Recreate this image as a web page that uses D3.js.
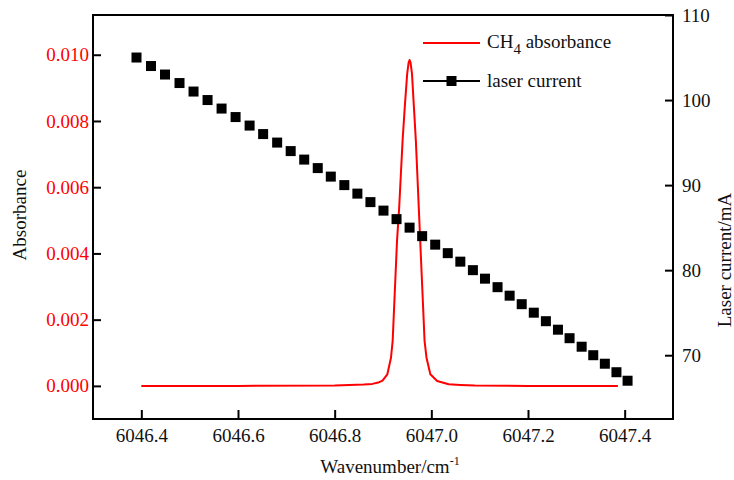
<!DOCTYPE html>
<html>
<head>
<meta charset="utf-8">
<script src="https://cdn.jsdelivr.net/npm/d3@7"></script>
<style>
  body { margin: 0; background: #fff; }
  svg text { font-family: "Liberation Serif", "Times New Roman", serif; }
</style>
</head>
<body>
<svg id="chart" width="734" height="480"></svg>
<script>
// CH4 absorbance line
const absWn = [6046.400, 6046.600, 6046.800, 6046.830, 6046.860, 6046.878, 6046.890, 6046.899,
  6046.909, 6046.9165, 6046.920, 6046.923, 6046.926, 6046.929, 6046.9335, 6046.937, 6046.9405,
  6046.945, 6046.950, 6046.953, 6046.955, 6046.957, 6046.960, 6046.964, 6046.968, 6046.971,
  6046.974, 6046.977, 6046.980, 6046.983, 6046.986, 6046.990, 6046.998, 6047.012, 6047.036,
  6047.060, 6047.090, 6047.200, 6047.386]
const absVal = [0, 0, 0.00001, 0.00003, 0.00004, 0.00006, 0.0001, 0.00016,
  0.00035, 0.00085, 0.00136, 0.00237, 0.00337, 0.00438, 0.00539, 0.0064, 0.0074,
  0.00841, 0.00942, 0.00976, 0.00984, 0.00976, 0.00942, 0.00841, 0.0074, 0.0064,
  0.00539, 0.00438, 0.00337, 0.00237, 0.00136, 0.00085, 0.00035, 0.00015, 0.00005,
  0.00003, 0.00001, 0, 0]

// laser current points
const curWn = [6046.390, 6046.420, 6046.449, 6046.479, 6046.508, 6046.537, 6046.566, 6046.595,
  6046.624, 6046.652, 6046.681, 6046.709, 6046.737, 6046.765, 6046.792, 6046.820, 6046.847,
  6046.874, 6046.901, 6046.928, 6046.955, 6046.981, 6047.008, 6047.034, 6047.060, 6047.086,
  6047.111, 6047.137, 6047.162, 6047.187, 6047.212, 6047.237, 6047.262, 6047.286, 6047.311,
  6047.335, 6047.359, 6047.383, 6047.406]
const curMA = [105, 104, 103, 102, 101, 100, 99, 98, 97, 96, 95, 94, 93, 92, 91, 90, 89, 88,
  87, 86, 85, 84, 83, 82, 81, 80, 79, 78, 77, 76, 75, 74, 73, 72, 71, 70, 69, 68, 67]

const xTicks = [6046.4, 6046.6, 6046.8, 6047.0, 6047.2, 6047.4]
const yLeftTicks = [0, 0.002, 0.004, 0.006, 0.008, 0.010]
const yRightTicks = [70, 80, 90, 100, 110]

// layout
const plotL = 93, plotR = 673, plotT = 15, plotB = 419
const red = '#ff0000'
const fontSize = 19

const svg = d3.select('#chart')

const x = d3.scaleLinear().domain([6046.3, 6047.5]).range([plotL, plotR])
const yAbs = d3.scaleLinear().domain([-0.001, 0.0112]).range([plotB, plotT])
const yCur = d3.scaleLinear().domain([62.5, 110]).range([plotB, plotT])

// axes (ticks point inward)
const gx = svg.append('g')
  .attr('transform', 'translate(0,' + plotB + ')')
  .call(d3.axisBottom(x).tickValues(xTicks).tickFormat(d3.format('.1f'))
    .tickSizeInner(-9).tickSizeOuter(0).tickPadding(10))

const gl = svg.append('g')
  .attr('transform', 'translate(' + plotL + ',0)')
  .call(d3.axisLeft(yAbs).tickValues(yLeftTicks).tickFormat(d3.format('.3f'))
    .tickSizeInner(-8).tickSizeOuter(0).tickPadding(4))

const gr = svg.append('g')
  .attr('transform', 'translate(' + plotR + ',0)')
  .call(d3.axisRight(yCur).tickValues(yRightTicks).tickFormat(d3.format('d'))
    .tickSizeInner(-8).tickSizeOuter(0).tickPadding(9))

;[gx, gl, gr].forEach(function (g) {
  g.select('.domain').remove()
  g.selectAll('.tick line').attr('stroke', '#000').attr('stroke-width', 2)
  g.selectAll('.tick text')
    .attr('fill', '#111')
    .style('font-family', '"Liberation Serif", serif')
    .style('font-size', fontSize + 'px')
})
gl.selectAll('.tick text').attr('fill', red)

// frame
svg.append('rect')
  .attr('x', plotL).attr('y', plotT)
  .attr('width', plotR - plotL).attr('height', plotB - plotT)
  .attr('fill', 'none').attr('stroke', '#000').attr('stroke-width', 2)

// absorbance curve
const line = d3.line()
  .x(function (d, i) { return x(absWn[i]) })
  .y(function (d, i) { return yAbs(absVal[i]) })

svg.append('path')
  .datum(absVal)
  .attr('d', line)
  .attr('fill', 'none')
  .attr('stroke', red)
  .attr('stroke-width', 2)
  .attr('stroke-linejoin', 'round')

// laser current squares
const sq = 10
svg.append('g').selectAll('rect')
  .data(curMA)
  .enter().append('rect')
  .attr('x', function (d, i) { return x(curWn[i]) - sq / 2 })
  .attr('y', function (d) { return yCur(d) - sq / 2 })
  .attr('width', sq).attr('height', sq)
  .attr('fill', '#000')

// axis titles
svg.append('text')
  .attr('transform', 'translate(26,215) rotate(-90)')
  .attr('text-anchor', 'middle')
  .style('font-size', fontSize + 'px')
  .attr('fill', '#111')
  .text('Absorbance')

svg.append('text')
  .attr('transform', 'translate(731,260) rotate(-90)')
  .attr('text-anchor', 'middle')
  .style('font-size', fontSize + 'px')
  .attr('fill', '#111')
  .text('Laser current/mA')

const xt = svg.append('text')
  .attr('x', 390).attr('y', 473)
  .attr('text-anchor', 'middle')
  .style('font-size', fontSize + 'px')
  .attr('fill', '#111')
xt.append('tspan').text('Wavenumber/cm')
xt.append('tspan').attr('dy', -8).style('font-size', '12px').text('-1')

// legend
svg.append('line')
  .attr('x1', 423).attr('x2', 480).attr('y1', 43).attr('y2', 43)
  .attr('stroke', red).attr('stroke-width', 2)
const l1 = svg.append('text')
  .attr('x', 487).attr('y', 48)
  .style('font-size', fontSize + 'px')
  .attr('fill', '#111')
l1.append('tspan').text('CH')
l1.append('tspan').attr('dy', 6).style('font-size', '15px').text('4')
l1.append('tspan').attr('dy', -6).text(' absorbance')

svg.append('line')
  .attr('x1', 423).attr('x2', 480).attr('y1', 81).attr('y2', 81)
  .attr('stroke', '#000').attr('stroke-width', 2)
svg.append('rect')
  .attr('x', 451.5 - sq / 2).attr('y', 81 - sq / 2)
  .attr('width', sq).attr('height', sq)
  .attr('fill', '#000')
svg.append('text')
  .attr('x', 487).attr('y', 87)
  .style('font-size', fontSize + 'px')
  .attr('fill', '#111')
  .text('laser current')
</script>
</body>
</html>
